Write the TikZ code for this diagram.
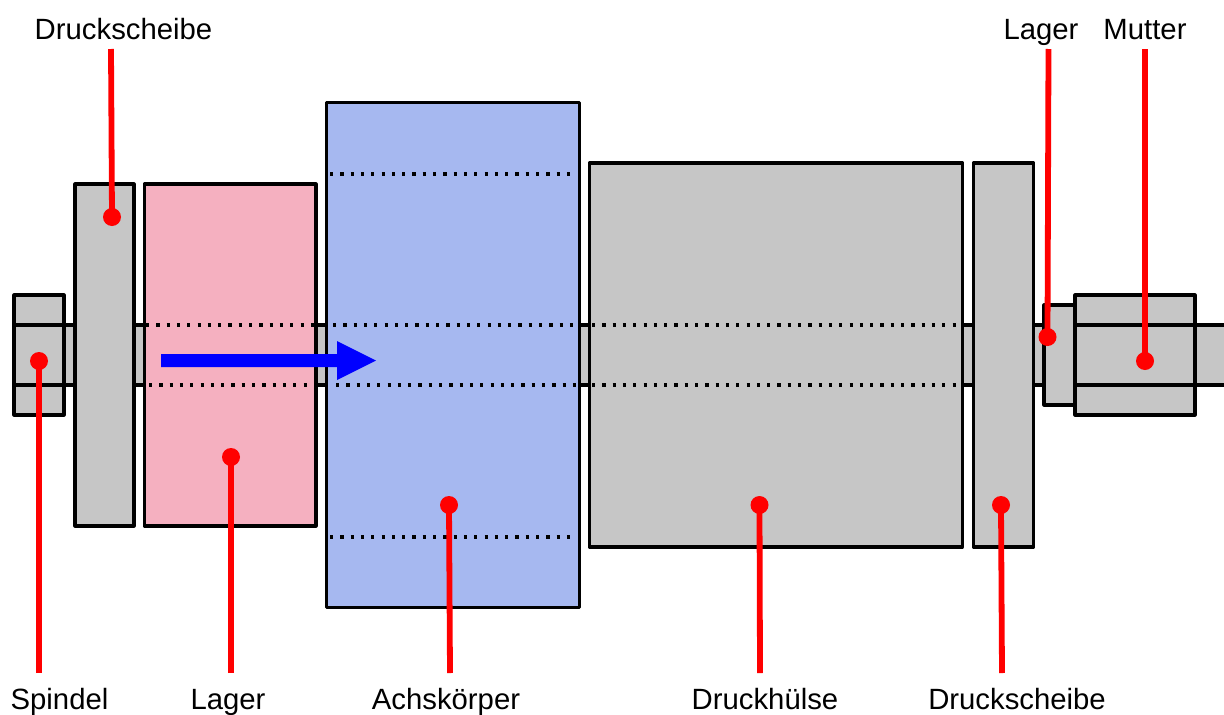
\documentclass[tikz,border=0pt]{standalone}
\usepackage{fontspec}
\setmainfont{Liberation Sans}
\definecolor{partgray}{HTML}{C6C6C6}
\definecolor{partpink}{HTML}{F5B0C0}
\definecolor{partblue}{HTML}{A6B8F0}
\tikzset{
  part/.style={draw=black,line width=3.1pt,line join=round,rectangle,inner sep=0pt,outer sep=0pt,fill=partgray},
  solidline/.style={draw=black,line width=3.1pt},
  dotline/.style={draw=black,line width=3.2pt,dash pattern=on 3.2pt off 7.1pt},
  leader/.style={draw=red,line width=5.8pt},
  pin/.style={circle,fill=red,inner sep=0pt,minimum size=18pt},
  lbl/.style={font=\fontsize{29.3pt}{32pt}\selectfont,inner sep=0pt,text=black,anchor=base},
  flow/.style={draw=none,fill=blue}
}
\begin{document}
\begin{tikzpicture}[x=1pt,y=-1pt]
\useasboundingbox (0,0) rectangle (1224,715);
% shaft
\fill[partgray] (14,325) rectangle (1224,385);
\coordinate (shL1) at (14,325); \coordinate (shR1) at (1224,325);
\coordinate (shL2) at (14,385); \coordinate (shR2) at (1224,385);
\draw[solidline] (shL1) -- (shR1);
\draw[solidline] (shL2) -- (shR2);
% parts
\node[part,minimum width=50pt,minimum height=120pt] (spindelkopf) at (39,355) {};
\node[part,minimum width=59pt,minimum height=342pt] (scheibeA) at (104.5,355) {};
\node[part,fill=partpink,minimum width=171.5pt,minimum height=342pt] (lagerA) at (230.2,355) {};
\node[part,fill=partblue,minimum width=253pt,minimum height=505pt] (achs) at (452.7,354.7) {};
\node[part,minimum width=373pt,minimum height=384pt] (huelse) at (776,355) {};
\node[part,minimum width=60.5pt,minimum height=384pt] (scheibeB) at (1003.5,355) {};
\node[part,minimum width=31pt,minimum height=100pt] (lagerB) at (1059.5,355) {};
\node[part,minimum width=120pt,minimum height=120pt] (mutter) at (1135,355) {};
% solid lines through the screw head and nut
\draw[solidline] (spindelkopf.west |- shL1) -- (spindelkopf.east |- shL1);
\draw[solidline] (spindelkopf.west |- shL2) -- (spindelkopf.east |- shL2);
\draw[solidline] (mutter.west |- shL1) -- (mutter.east |- shL1);
\draw[solidline] (mutter.west |- shL2) -- (mutter.east |- shL2);
% hidden edges
\draw[dotline] (146,325) -- (316,325);
\draw[dotline] (149,385) -- (312,385);
\draw[dotline] (333,325) -- (579,325);
\draw[dotline] (336,385) -- (579,385);
\draw[dotline] (592,325) -- (968,325);
\draw[dotline] (592,385) -- (970,385);
\draw[dotline] (330,174) -- (572,174);
\draw[dotline] (330,537) -- (572,537);
% flow arrow
\fill[flow] (161,354) -- (337,354) -- (337,341) -- (376,360.5) -- (337,380) -- (337,367) -- (161,367) -- cycle;
% pins
\node[pin] (pA) at (112,217) {};
\node[pin] (pB) at (39,361) {};
\node[pin] (pC) at (231,457) {};
\node[pin] (pD) at (449,505) {};
\node[pin] (pE) at (759.5,505) {};
\node[pin] (pF) at (1001,505) {};
\node[pin] (pG) at (1047.5,337) {};
\node[pin] (pH) at (1145,361) {};
% free ends
\coordinate (eA) at (111,49);
\coordinate (eB) at (39,673);
\coordinate (eC) at (231,673);
\coordinate (eD) at (450,673);
\coordinate (eE) at (760,673);
\coordinate (eF) at (1002,673);
\coordinate (eG) at (1048.5,49);
\coordinate (eH) at (1145,49);
\draw[leader] (eA) -- (pA.center);
\draw[leader] (eB) -- (pB.center);
\draw[leader] (eC) -- (pC.center);
\draw[leader] (eD) -- (pD.center);
\draw[leader] (eE) -- (pE.center);
\draw[leader] (eF) -- (pF.center);
\draw[leader] (eG) -- (pG.center);
\draw[leader] (eH) -- (pH.center);
% labels
\node[lbl] (tA) at (123.5,39) {Druckscheibe};
\node[lbl] (tG) at (1041,39) {Lager};
\node[lbl] (tH) at (1145,39) {Mutter};
\node[lbl] (tB) at (59.5,709) {Spindel};
\node[lbl] (tC) at (228,709) {Lager};
\node[lbl] (tD) at (446,709) {Achskörper};
\node[lbl] (tE) at (765,709) {Druckhülse};
\node[lbl] (tF) at (1017,709) {Druckscheibe};
\end{tikzpicture}
\end{document}
